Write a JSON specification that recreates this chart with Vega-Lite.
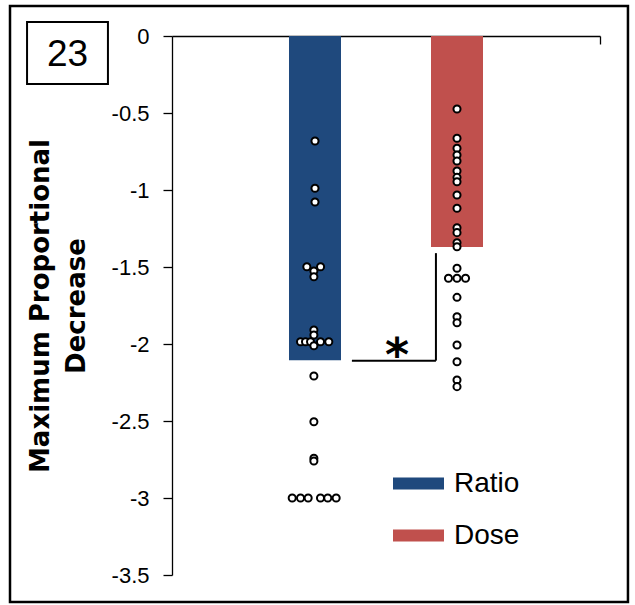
{
  "$schema": "https://vega.github.io/schema/vega-lite/v6.json",
  "width": 428,
  "height": 539,
  "autosize": "none",
  "padding": {"left": 172, "top": 36, "right": 35, "bottom": 30},
  "background": "white",
  "config": {"view": {"stroke": null}, "font": "Liberation Sans"},
  "datasets": {
    "bars": [
      {"group": "Ratio", "value": -2.106},
      {"group": "Dose", "value": -1.37}
    ],
    "points": [
      {"group": "Ratio", "value": -0.682, "slot": 0},
      {"group": "Ratio", "value": -0.989, "slot": 0},
      {"group": "Ratio", "value": -1.078, "slot": 0},
      {"group": "Ratio", "value": -1.498, "slot": -1.1},
      {"group": "Ratio", "value": -1.498, "slot": 0.75},
      {"group": "Ratio", "value": -1.526, "slot": -0.15},
      {"group": "Ratio", "value": -1.563, "slot": -0.15},
      {"group": "Ratio", "value": -1.909, "slot": -0.15},
      {"group": "Ratio", "value": -1.942, "slot": -0.15},
      {"group": "Ratio", "value": -1.985, "slot": -1.95},
      {"group": "Ratio", "value": -1.985, "slot": -1.28},
      {"group": "Ratio", "value": -1.985, "slot": -0.6},
      {"group": "Ratio", "value": -2.011, "slot": -0.15},
      {"group": "Ratio", "value": -1.985, "slot": 0.74},
      {"group": "Ratio", "value": -1.985, "slot": 1.86},
      {"group": "Ratio", "value": -2.208, "slot": -0.15},
      {"group": "Ratio", "value": -2.505, "slot": -0.15},
      {"group": "Ratio", "value": -2.742, "slot": -0.15},
      {"group": "Ratio", "value": -2.76, "slot": -0.15},
      {"group": "Ratio", "value": -3.0, "slot": -3.07},
      {"group": "Ratio", "value": -3.0, "slot": -1.95},
      {"group": "Ratio", "value": -3.0, "slot": -0.92},
      {"group": "Ratio", "value": -3.0, "slot": 0.74},
      {"group": "Ratio", "value": -3.0, "slot": 1.72},
      {"group": "Ratio", "value": -3.0, "slot": 2.85},
      {"group": "Dose", "value": -0.474, "slot": 0},
      {"group": "Dose", "value": -0.664, "slot": 0},
      {"group": "Dose", "value": -0.729, "slot": 0},
      {"group": "Dose", "value": -0.773, "slot": 0},
      {"group": "Dose", "value": -0.812, "slot": 0},
      {"group": "Dose", "value": -0.877, "slot": 0},
      {"group": "Dose", "value": -0.918, "slot": 0},
      {"group": "Dose", "value": -0.946, "slot": 0},
      {"group": "Dose", "value": -1.032, "slot": 0},
      {"group": "Dose", "value": -1.119, "slot": 0},
      {"group": "Dose", "value": -1.245, "slot": 0},
      {"group": "Dose", "value": -1.277, "slot": 0},
      {"group": "Dose", "value": -1.342, "slot": 0},
      {"group": "Dose", "value": -1.368, "slot": 0},
      {"group": "Dose", "value": -1.508, "slot": 0},
      {"group": "Dose", "value": -1.573, "slot": -1.15},
      {"group": "Dose", "value": -1.573, "slot": 0},
      {"group": "Dose", "value": -1.573, "slot": 1.15},
      {"group": "Dose", "value": -1.697, "slot": 0},
      {"group": "Dose", "value": -1.823, "slot": 0},
      {"group": "Dose", "value": -1.862, "slot": 0},
      {"group": "Dose", "value": -2.006, "slot": 0},
      {"group": "Dose", "value": -2.115, "slot": 0},
      {"group": "Dose", "value": -2.234, "slot": 0},
      {"group": "Dose", "value": -2.277, "slot": 0}
    ],
    "bracket": [
      {"x": 1.261, "x2": 1.85, "y": -2.108, "y2": -2.108},
      {"x": 1.85, "x2": 1.85, "y": -2.108, "y2": -1.41}
    ],
    "star": [{"x": 1.577, "y": -2.175, "label": "*"}],
    "panel": [{"x": -1.016, "x2": -0.449, "y": 0.091, "y2": -0.312, "tx": -0.7325, "ty": -0.195, "label": "23"}],
    "frame": [{"x": -1.1355, "x2": 3.196, "y": 0.195, "y2": -3.675}]
  },
  "layer": [
    {
      "data": {"name": "bars"},
      "mark": {"type": "bar", "width": 52},
      "encoding": {
        "x": {"field": "group", "type": "nominal", "sort": ["Ratio", "Dose"], "scale": {"domain": ["Ratio", "Dose"], "paddingInner": 0.634, "paddingOuter": 0.824}, "axis": null},
        "y": {"field": "value", "type": "quantitative", "scale": {"domain": [-3.5, 0], "nice": false, "zero": false},
          "axis": {
            "values": [0, -0.5, -1, -1.5, -2, -2.5, -3, -3.5],
            "labelExpr": "datum.value == 0 ? '0' : '-' + format(abs(datum.value), '~g')",
            "labelFont": "Liberation Sans", "labelFontSize": 22, "labelColor": "#000000", "labelPadding": 14,
            "tickSize": 9, "tickColor": "#000000", "tickWidth": 1.3,
            "domainColor": "#000000", "domainWidth": 1.3, "grid": false,
            "title": ["Maximum Proportional", "Decrease"],
            "titleFont": "DejaVu Sans", "titleFontSize": 26, "titleFontWeight": "bold", "titleColor": "#000000",
            "titleLineHeight": 36, "titlePadding": 22
          }},
        "color": {"field": "group", "type": "nominal", "scale": {"domain": ["Ratio", "Dose"], "range": ["#1F497D", "#C0504D"]},
          "legend": {
            "orient": "none", "legendX": 221, "legendY": 422, "title": null, "padding": 0,
            "symbolType": "M-1,-0.235H1V0.235H-1Z", "symbolSize": 2601, "symbolStrokeWidth": 0, "symbolOpacity": 1,
            "labelFont": "Liberation Sans", "labelFontSize": 28, "labelColor": "#000000", "labelOffset": 10,
            "rowPadding": 12
          }}
      }
    },
    {
      "data": {"name": "points"},
      "mark": {"type": "point", "shape": "circle", "filled": false, "fill": "white", "stroke": "black", "strokeWidth": 2, "size": 50, "opacity": 1},
      "encoding": {
        "x": {"field": "group", "type": "nominal", "sort": ["Ratio", "Dose"], "scale": {"domain": ["Ratio", "Dose"], "paddingInner": 0.634, "paddingOuter": 0.824}, "axis": null},
        "xOffset": {"field": "slot", "type": "quantitative", "scale": {"domain": [-3.5, 3.5]}},
        "y": {"field": "value", "type": "quantitative"}
      }
    },
    {
      "data": {"name": "bracket"},
      "mark": {"type": "rule", "color": "black", "strokeWidth": 2},
      "encoding": {
        "x": {"field": "x", "type": "quantitative", "scale": {"domain": [0, 3], "nice": false, "zero": false},
          "axis": {"orient": "top", "values": [3], "labels": false, "title": null, "grid": false, "tickSize": -8, "tickColor": "#000000", "tickWidth": 1.3, "domainColor": "#000000", "domainWidth": 1.3}},
        "x2": {"field": "x2"},
        "y": {"field": "y", "type": "quantitative"},
        "y2": {"field": "y2"}
      }
    },
    {
      "layer": [
        {
          "data": {"name": "star"},
          "mark": {"type": "text", "font": "DejaVu Sans", "fontWeight": "bold", "fontSize": 46, "align": "center", "baseline": "alphabetic", "color": "black"},
          "encoding": {
            "x": {"field": "x", "type": "quantitative", "scale": {"domain": [0, 3], "nice": false, "zero": false}, "axis": null},
            "y": {"field": "y", "type": "quantitative"},
            "text": {"field": "label"}
          }
        },
        {
          "data": {"name": "panel"},
          "mark": {"type": "rect", "fill": null, "stroke": "black", "strokeWidth": 2},
          "encoding": {
            "x": {"field": "x", "type": "quantitative"},
            "x2": {"field": "x2"},
            "y": {"field": "y", "type": "quantitative"},
            "y2": {"field": "y2"}
          }
        },
        {
          "data": {"name": "panel"},
          "mark": {"type": "text", "font": "Liberation Sans", "fontSize": 37, "align": "center", "baseline": "alphabetic", "color": "black"},
          "encoding": {
            "x": {"field": "tx", "type": "quantitative"},
            "y": {"field": "ty", "type": "quantitative"},
            "text": {"field": "label"}
          }
        },
        {
          "data": {"name": "frame"},
          "mark": {"type": "rect", "fill": null, "stroke": "black", "strokeWidth": 2.5},
          "encoding": {
            "x": {"field": "x", "type": "quantitative"},
            "x2": {"field": "x2"},
            "y": {"field": "y", "type": "quantitative"},
            "y2": {"field": "y2"}
          }
        }
      ]
    }
  ],
  "resolve": {"scale": {"x": "independent"}, "axis": {"x": "independent"}}
}
